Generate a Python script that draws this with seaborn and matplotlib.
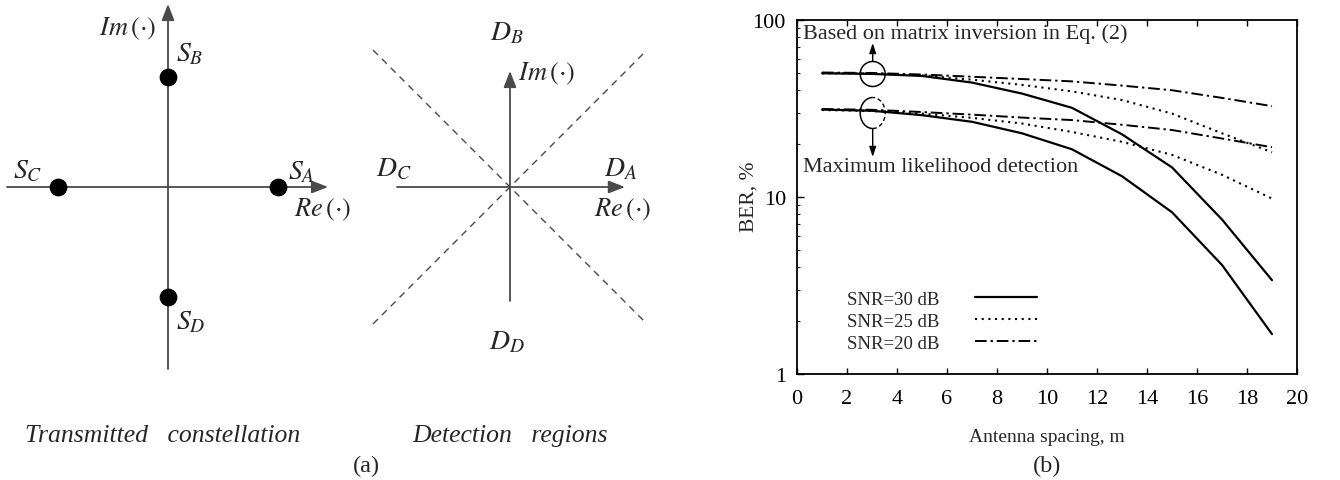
import numpy as np
import pandas as pd
import matplotlib
matplotlib.use("Agg")
import matplotlib.pyplot as plt
import seaborn as sns
from matplotlib.patches import Ellipse, Arc
from matplotlib.ticker import LogLocator, FixedLocator, NullFormatter, NullLocator

# ---------------- data ----------------
antenna_spacing = [1, 3, 5, 7, 9, 11, 13, 15, 17, 19]
mi_snr30 = [50.0, 49.6, 48.3, 44.3, 38.4, 31.9, 22.6, 14.7, 7.46, 3.39]
mi_snr25 = [50.0, 49.8, 48.6, 46.0, 43.0, 39.5, 35.3, 29.6, 22.9, 17.9]
mi_snr20 = [50.5, 50.2, 49.2, 47.8, 46.4, 45.0, 42.6, 40.1, 36.3, 32.6]
ml_snr30 = [31.2, 30.7, 29.0, 26.6, 22.9, 18.6, 13.1, 8.2, 4.13, 1.68]
ml_snr25 = [31.0, 30.6, 29.6, 28.0, 26.0, 23.3, 20.5, 17.3, 13.35, 9.8]
ml_snr20 = [31.4, 31.1, 30.2, 29.2, 28.1, 27.2, 25.6, 23.9, 21.4, 19.1]
snr_labels = ["SNR=30 dB", "SNR=25 dB", "SNR=20 dB"]
x_ticks = [0, 2, 4, 6, 8, 10, 12, 14, 16, 18, 20]
y_ticks = [1, 10, 100]
y_tick_labels = ["1", "10", "100"]

const_re = [1, 0, -1, 0]
const_im = [0, 1, 0, -1]
const_labels = [r"$S_A$", r"$S_B$", r"$S_C$", r"$S_D$"]
region_labels = [r"$D_A$", r"$D_B$", r"$D_C$", r"$D_D$"]

# ---------------- style ----------------
sns.set_style("ticks")
plt.rcParams["font.family"] = ["Liberation Serif", "DejaVu Serif"]
plt.rcParams["mathtext.fontset"] = "stix"

W, H = 1340, 481
fig = plt.figure(figsize=(W / 100, H / 100), dpi=100)


def px_box(x0, y0, x1, y1):
    return [x0 / W, 1 - y1 / H, (x1 - x0) / W, (y1 - y0) / H]


def ftext(x, y, s, **kw):
    fig.text(x / W, 1 - y / H, s, ha=kw.pop("ha", "center"), va=kw.pop("va", "center"), **kw)


AX_COLOR = "#4a4a4a"
UNIT = 110.0


def arrow(ax, start, tip, color=AX_COLOR):
    ax.annotate("", xy=tip, xytext=start,
                arrowprops=dict(arrowstyle="-|>,head_length=0.9,head_width=0.35",
                                color=color, lw=1.3, shrinkA=0, shrinkB=0,
                                mutation_scale=11))


lab_size = 19

# ---------------- (a) constellation ----------------
ax1 = fig.add_axes(px_box(0, 0, 345, 400))
ax1.set_xlim((0 - 168) / UNIT, (345 - 168) / UNIT)
ax1.set_ylim((188 - 400) / UNIT, 188 / UNIT)
ax1.axis("off")
arrow(ax1, (-1.464, 0), (1.455, 0))
arrow(ax1, (0, -1.655), (0, 1.664))
sns.scatterplot(x=const_re, y=const_im, ax=ax1, color="black", s=140,
                edgecolor="black", zorder=5, legend=False)
ax1.text(-0.364, 1.445, r"$Im\,(\cdot)$", fontsize=lab_size, ha="center", va="center")
ax1.text(1.409, -0.2, r"$Re\,(\cdot)$", fontsize=lab_size, ha="center", va="center")
const_label_pos = [(1.209, 0.136), (0.2, 1.209), (-1.273, 0.145), (0.209, -1.227)]
for (lx, ly), lab in zip(const_label_pos, const_labels):
    ax1.text(lx, ly, lab, fontsize=lab_size + 1, ha="center", va="center")

# ---------------- (a) detection regions ----------------
ax2 = fig.add_axes(px_box(350, 0, 680, 400))
ax2.set_xlim((350 - 510) / UNIT, (680 - 510) / UNIT)
ax2.set_ylim((188 - 400) / UNIT, 188 / UNIT)
ax2.axis("off")
d = 1.245
ax2.plot([-d, d], [d, -d], color=AX_COLOR, lw=1.0, linestyle=(0, (5, 4)))
ax2.plot([-d, d], [-d, d], color=AX_COLOR, lw=1.0, linestyle=(0, (5, 4)))
arrow(ax2, (-1.027, 0), (1.045, 0))
arrow(ax2, (0, -1.036), (0, 1.055))
ax2.text(0.336, 1.036, r"$Im\,(\cdot)$", fontsize=lab_size, ha="center", va="center")
ax2.text(1.027, -0.2, r"$Re\,(\cdot)$", fontsize=lab_size, ha="center", va="center")
region_label_pos = [(1.009, 0.164), (-0.027, 1.4), (-1.055, 0.164), (-0.027, -1.409)]
for (lx, ly), lab in zip(region_label_pos, region_labels):
    ax2.text(lx, ly, lab, fontsize=lab_size + 1, ha="center", va="center")

ftext(163, 436, "Transmitted   constellation", fontsize=18.5, style="italic")
ftext(510, 436, "Detection   regions", fontsize=18.5, style="italic")
ftext(366, 466, "(a)", fontsize=17.5)

# ---------------- (b) BER chart ----------------
ax3 = fig.add_axes(px_box(797, 21, 1297, 375))
series = [
    (mi_snr30, "-", None, 1.6),
    (mi_snr25, (0, (1, 2.2)), None, 1.5),
    (mi_snr20, (0, (6, 2, 1.2, 2)), None, 1.4),
    (ml_snr30, "-", snr_labels[0], 1.6),
    (ml_snr25, (0, (1, 2.2)), snr_labels[1], 1.5),
    (ml_snr20, (0, (6, 2, 1.2, 2)), snr_labels[2], 1.4),
]
for vals, ls, lab, lw in series:
    df = pd.DataFrame({"spacing": antenna_spacing, "ber": vals})
    sns.lineplot(data=df, x="spacing", y="ber", ax=ax3, color="black",
                 linestyle=ls, lw=lw, label=lab, legend=False)

ax3.set_yscale("log")
ax3.set_xlim(0, 20)
ax3.set_ylim(1, 100)
ax3.xaxis.set_major_locator(FixedLocator(x_ticks))
ax3.xaxis.set_minor_locator(NullLocator())
ax3.yaxis.set_major_locator(FixedLocator(y_ticks))
ax3.set_yticklabels(y_tick_labels)
ax3.yaxis.set_minor_locator(LogLocator(base=10, subs=np.arange(2, 10)))
ax3.yaxis.set_minor_formatter(NullFormatter())
ax3.tick_params(axis="both", which="major", direction="in", length=4.5, width=1,
                labelsize=16, colors="black")
ax3.tick_params(axis="x", which="major", top=True, bottom=True, pad=11)
ax3.tick_params(axis="y", which="major", left=True, right=False, pad=8, length=5)
ax3.tick_params(axis="y", which="minor", direction="in", length=2.5, width=0.8,
                left=True, right=False)
for sp in ax3.spines.values():
    sp.set_visible(True)
    sp.set_linewidth(1.3)
    sp.set_color("black")
ax3.set_xlabel("Antenna spacing, m", fontsize=14)
ax3.set_ylabel("BER, %", fontsize=15.5)
ax3.xaxis.set_label_coords(0.5, (375 - 438) / 354)
ax3.yaxis.set_label_coords((749 - 797) / 500, (375 - 197) / 354)
ax3.xaxis.label.set_va("center")
ax3.yaxis.label.set_va("center")

handles, labels = ax3.get_legend_handles_labels()
ax3.legend(handles, labels, loc="center", bbox_to_anchor=(0.29, 0.149),
           frameon=False, markerfirst=False, fontsize=13.5, handlelength=3.3,
           handletextpad=1.9, labelspacing=0.25, borderpad=0)

# annotations
ax3.text(0.012, 0.962, "Based on matrix inversion in Eq. (2)", transform=ax3.transAxes,
         fontsize=16, ha="left", va="center")
ax3.text(0.012, 0.585, "Maximum likelihood detection", transform=ax3.transAxes,
         fontsize=16, ha="left", va="center")
ex = (872.7 - 797) / 500
ax3.add_patch(Ellipse((ex, (375 - 75) / 354), 25 / 500, 25 / 354, transform=ax3.transAxes,
                      fill=False, lw=1.1, color="black"))
ax3.add_patch(Arc((ex, (375 - 114) / 354), 25 / 500, 31 / 354, theta1=90, theta2=270,
                  transform=ax3.transAxes, lw=1.1, color="black"))
ax3.add_patch(Arc((ex, (375 - 114) / 354), 25 / 500, 31 / 354, theta1=-90, theta2=90,
                  transform=ax3.transAxes, lw=1.0, color="black", linestyle=(0, (3, 2))))
for y0, y1 in [(62, 44), (130, 158)]:
    ax3.annotate("", xy=(ex, (375 - y1) / 354), xytext=(ex, (375 - y0) / 354),
                 xycoords="axes fraction", textcoords="axes fraction",
                 arrowprops=dict(arrowstyle="-|>,head_length=0.6,head_width=0.2",
                                 color="black", lw=1.0, shrinkA=0, shrinkB=0,
                                 mutation_scale=10))

ftext(1047, 466, "(b)", fontsize=17.5)

fig.savefig("out.png", dpi=100)
